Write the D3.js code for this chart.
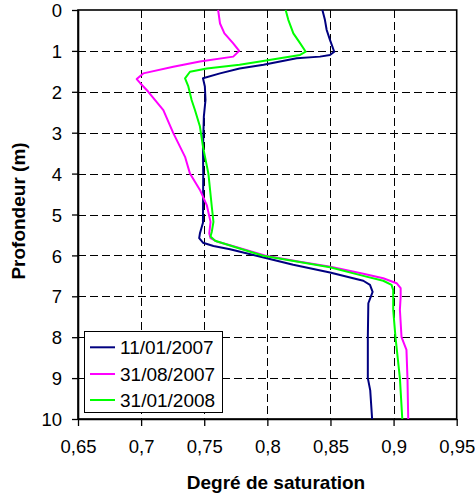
<!DOCTYPE html>
<html><head><meta charset="utf-8">
<script src="https://cdn.jsdelivr.net/npm/d3@7"></script>
<style>body{margin:0;background:#fff}svg{display:block}text{font-family:"Liberation Sans",Arial,sans-serif}</style>
</head><body>
<svg id="c" width="475" height="495"></svg>
<script>
const seriesNames = ["11/01/2007", "31/08/2007", "31/01/2008"];
const seriesColors = ["#000080", "#FF00FF", "#00FF00"];

const depth1 = [0,0.24,0.49,0.73,1.02,1.10,1.14,1.18,1.34,1.43,1.55,1.67,1.87,2.2,2.6,3.4,4.0,5.2,5.46,5.58,5.69,5.77,5.85,6.07,6.23,6.42,6.62,6.72,6.89,7.17,8.0,9.0,9.3,10.0];
const sat1   = [0.8436,0.8456,0.847,0.8496,0.853,0.8496,0.8417,0.8232,0.797,0.778,0.7625,0.749,0.7505,0.751,0.7497,0.749,0.7492,0.749,0.7466,0.746,0.749,0.7573,0.7704,0.7995,0.8205,0.8496,0.876,0.8813,0.8834,0.880,0.8796,0.8796,0.8815,0.883];

const depth2 = [0,0.33,0.57,0.81,1.0,1.14,1.26,1.39,1.55,1.69,1.79,2.0,2.45,3.01,3.59,4.0,4.4,4.77,5.18,5.46,5.58,5.66,5.75,6.0,6.15,6.28,6.45,6.56,6.68,6.8,7.01,7.33,8.0,8.31,9.0,10.0];
const sat2   = [0.761,0.7625,0.766,0.7728,0.7777,0.773,0.7466,0.7255,0.7017,0.6965,0.6993,0.7057,0.7176,0.7255,0.7348,0.7387,0.7466,0.752,0.755,0.754,0.755,0.7598,0.7704,0.798,0.8245,0.85,0.876,0.8918,0.9024,0.9056,0.9056,0.905,0.9063,0.9102,0.911,0.9116];

const depth3 = [0,0.24,0.57,0.81,1.02,1.1,1.18,1.26,1.34,1.43,1.51,1.67,1.87,2.2,2.45,2.85,3.34,4.0,4.81,5.18,5.42,5.54,5.64,5.83,6.01,6.15,6.29,6.5,6.62,6.72,6.85,7.33,8.0,9.0,10.0];
const sat3   = [0.8145,0.8166,0.8206,0.8259,0.8304,0.8259,0.81,0.7942,0.778,0.752,0.7387,0.7348,0.7374,0.74,0.7427,0.7466,0.749,0.7533,0.756,0.7573,0.756,0.755,0.7586,0.778,0.7967,0.8232,0.8496,0.876,0.8918,0.8984,0.8997,0.8997,0.9015,0.905,0.9069];

const xTicks = [0.65,0.7,0.75,0.8,0.85,0.9,0.95];
const xTickLabels = ["0,65","0,7","0,75","0,8","0,85","0,9","0,95"];
const yTicks = [0,1,2,3,4,5,6,7,8,9,10];
const xTitle = "Degré de saturation";
const yTitle = "Profondeur (m)";

const svg = d3.select("#c");
const L = 78, R = 456.7, T = 10, B = 419;
const x = d3.scaleLinear().domain([0.65,0.95]).range([L,R]);
const y = d3.scaleLinear().domain([0,10]).range([T,B]);
const snap = v => Math.round(v) + 0.5;

// gridlines
const g = svg.append("g").attr("shape-rendering","crispEdges");
g.selectAll("line.hg").data(yTicks.filter(d=>d>0&&d<10)).join("line")
  .attr("x1",L).attr("x2",R).attr("y1",d=>snap(y(d))).attr("y2",d=>snap(y(d)))
  .attr("stroke","#000").attr("stroke-width",1).attr("stroke-dasharray","8,4");
g.selectAll("line.vg").data(xTicks.filter(d=>d>0.66&&d<0.94)).join("line")
  .attr("x1",d=>snap(x(d))).attr("x2",d=>snap(x(d))).attr("y1",T).attr("y2",B)
  .attr("stroke","#000").attr("stroke-width",1).attr("stroke-dasharray","8,4");

// frame
svg.append("rect").attr("x",L).attr("y",T).attr("width",R-L).attr("height",B-T)
  .attr("fill","none").attr("stroke","#000").attr("stroke-width",1.6);

// axes
const xAxis = d3.axisBottom(x).tickValues(xTicks).tickFormat((d,i)=>xTickLabels[i]).tickSizeInner(7).tickSizeOuter(0).tickPadding(14);
const xa = svg.append("g").attr("transform",`translate(0,${B})`).call(xAxis);
const yAxis = d3.axisLeft(y).tickValues(yTicks).tickSizeInner(6).tickSizeOuter(0).tickPadding(10);
const ya = svg.append("g").attr("transform",`translate(${L},0)`).call(yAxis);
[xa,ya].forEach(a=>{
  a.select(".domain").attr("stroke","#000").attr("stroke-width",1.6);
  a.selectAll(".tick line").attr("stroke","#000").attr("stroke-width",1.3);
  a.selectAll(".tick text").attr("fill","#000").style("font-size","18.5px").style("font-family","'Liberation Sans',Arial,sans-serif");
});
ya.selectAll(".tick text").attr("dy","0.36em");
xa.selectAll(".tick text").attr("dy","0.71em");

// lines
const series = [
  {name:seriesNames[0], color:seriesColors[0], d:depth1, v:sat1},
  {name:seriesNames[1], color:seriesColors[1], d:depth2, v:sat2},
  {name:seriesNames[2], color:seriesColors[2], d:depth3, v:sat3}
];
const line = d3.line().x(p=>x(p[1])).y(p=>y(p[0])).curve(d3.curveLinear);
series.forEach(s=>{
  svg.append("path").datum(s.d.map((dd,i)=>[dd,s.v[i]]))
    .attr("d",line).attr("fill","none").attr("stroke",s.color)
    .attr("stroke-width",2).attr("stroke-linejoin","round");
});

// titles
svg.append("text").attr("x",276).attr("y",489).attr("text-anchor","middle")
  .style("font-size","19px").style("font-weight","bold").text(xTitle);
svg.append("text").attr("transform","translate(25,211) rotate(-90)").attr("text-anchor","middle")
  .style("font-size","19px").style("font-weight","bold").text(yTitle);

// legend
const lg = svg.append("g");
lg.append("rect").attr("x",84.5).attr("y",331.5).attr("width",138).attr("height",81)
  .attr("fill","#fff").attr("stroke","#000").attr("stroke-width",1);
const rows = [347.3,374,400];
series.forEach((s,i)=>{
  lg.append("line").attr("x1",90).attr("x2",115).attr("y1",rows[i]).attr("y2",rows[i])
    .attr("stroke",s.color).attr("stroke-width",2);
  lg.append("text").attr("x",120).attr("y",rows[i]+7).style("font-size","19px").text(s.name);
});
</script>
</body></html>
